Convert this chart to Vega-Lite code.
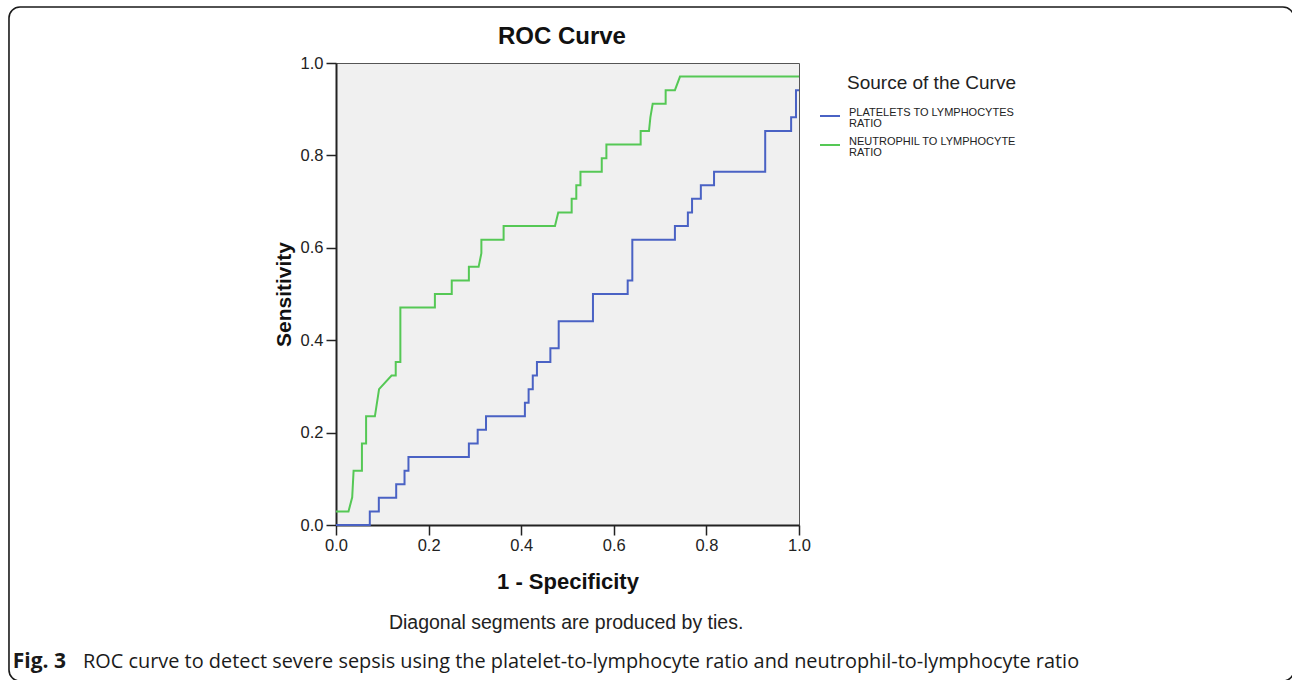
{
  "$schema": "https://vega.github.io/schema/vega-lite/v6.json",
  "autosize": "none",
  "width": 463,
  "height": 462,
  "padding": {"left": 336, "top": 63, "right": 493, "bottom": 155},
  "background": "white",
  "config": {
    "font": "Liberation Sans",
    "view": {"fill": "#f0f0f0", "stroke": "#555555", "strokeWidth": 1},
    "axis": {
      "domainColor": "#222222", "domainWidth": 2,
      "tickColor": "#222222", "tickWidth": 1.5, "tickSize": 10,
      "labelFont": "Liberation Sans", "labelFontSize": 16.5, "labelColor": "#222222",
      "titleFont": "Liberation Sans", "titleFontWeight": "bold", "titleColor": "#111111",
      "grid": false
    },
    "style": {"guide-label": {"lineHeight": 11}}
  },
  "datasets": {
    "notes": [
      {"kind": "title", "label": "ROC Curve"},
      {"kind": "ties", "label": "Diagonal segments are produced by ties."},
      {"kind": "figno", "label": "Fig. 3"},
      {"kind": "caption", "label": "ROC curve to detect severe sepsis using the platelet-to-lymphocyte ratio and neutrophil-to-lymphocyte ratio"}
    ],
    "roc": [
      {"series": "NEUTROPHIL TO LYMPHOCYTE RATIO", "i": 1, "fpr": 0.0, "tpr": 0.0294},
      {"series": "NEUTROPHIL TO LYMPHOCYTE RATIO", "i": 2, "fpr": 0.027, "tpr": 0.0294},
      {"series": "NEUTROPHIL TO LYMPHOCYTE RATIO", "i": 3, "fpr": 0.035, "tpr": 0.06},
      {"series": "NEUTROPHIL TO LYMPHOCYTE RATIO", "i": 4, "fpr": 0.038, "tpr": 0.1176},
      {"series": "NEUTROPHIL TO LYMPHOCYTE RATIO", "i": 5, "fpr": 0.056, "tpr": 0.1176},
      {"series": "NEUTROPHIL TO LYMPHOCYTE RATIO", "i": 6, "fpr": 0.056, "tpr": 0.1765},
      {"series": "NEUTROPHIL TO LYMPHOCYTE RATIO", "i": 7, "fpr": 0.065, "tpr": 0.1765},
      {"series": "NEUTROPHIL TO LYMPHOCYTE RATIO", "i": 8, "fpr": 0.065, "tpr": 0.2353},
      {"series": "NEUTROPHIL TO LYMPHOCYTE RATIO", "i": 9, "fpr": 0.084, "tpr": 0.2353},
      {"series": "NEUTROPHIL TO LYMPHOCYTE RATIO", "i": 10, "fpr": 0.093, "tpr": 0.2941},
      {"series": "NEUTROPHIL TO LYMPHOCYTE RATIO", "i": 11, "fpr": 0.12, "tpr": 0.3235},
      {"series": "NEUTROPHIL TO LYMPHOCYTE RATIO", "i": 12, "fpr": 0.129, "tpr": 0.3235},
      {"series": "NEUTROPHIL TO LYMPHOCYTE RATIO", "i": 13, "fpr": 0.129, "tpr": 0.3529},
      {"series": "NEUTROPHIL TO LYMPHOCYTE RATIO", "i": 14, "fpr": 0.139, "tpr": 0.3529},
      {"series": "NEUTROPHIL TO LYMPHOCYTE RATIO", "i": 15, "fpr": 0.139, "tpr": 0.4706},
      {"series": "NEUTROPHIL TO LYMPHOCYTE RATIO", "i": 16, "fpr": 0.2136, "tpr": 0.4706},
      {"series": "NEUTROPHIL TO LYMPHOCYTE RATIO", "i": 17, "fpr": 0.2136, "tpr": 0.5},
      {"series": "NEUTROPHIL TO LYMPHOCYTE RATIO", "i": 18, "fpr": 0.25, "tpr": 0.5},
      {"series": "NEUTROPHIL TO LYMPHOCYTE RATIO", "i": 19, "fpr": 0.25, "tpr": 0.5294},
      {"series": "NEUTROPHIL TO LYMPHOCYTE RATIO", "i": 20, "fpr": 0.287, "tpr": 0.5294},
      {"series": "NEUTROPHIL TO LYMPHOCYTE RATIO", "i": 21, "fpr": 0.287, "tpr": 0.5588},
      {"series": "NEUTROPHIL TO LYMPHOCYTE RATIO", "i": 22, "fpr": 0.308, "tpr": 0.5588},
      {"series": "NEUTROPHIL TO LYMPHOCYTE RATIO", "i": 23, "fpr": 0.314, "tpr": 0.5882},
      {"series": "NEUTROPHIL TO LYMPHOCYTE RATIO", "i": 24, "fpr": 0.314, "tpr": 0.6176},
      {"series": "NEUTROPHIL TO LYMPHOCYTE RATIO", "i": 25, "fpr": 0.362, "tpr": 0.6176},
      {"series": "NEUTROPHIL TO LYMPHOCYTE RATIO", "i": 26, "fpr": 0.362, "tpr": 0.6471},
      {"series": "NEUTROPHIL TO LYMPHOCYTE RATIO", "i": 27, "fpr": 0.473, "tpr": 0.6471},
      {"series": "NEUTROPHIL TO LYMPHOCYTE RATIO", "i": 28, "fpr": 0.48, "tpr": 0.6765},
      {"series": "NEUTROPHIL TO LYMPHOCYTE RATIO", "i": 29, "fpr": 0.509, "tpr": 0.6765},
      {"series": "NEUTROPHIL TO LYMPHOCYTE RATIO", "i": 30, "fpr": 0.509, "tpr": 0.7059},
      {"series": "NEUTROPHIL TO LYMPHOCYTE RATIO", "i": 31, "fpr": 0.519, "tpr": 0.7059},
      {"series": "NEUTROPHIL TO LYMPHOCYTE RATIO", "i": 32, "fpr": 0.519, "tpr": 0.7353},
      {"series": "NEUTROPHIL TO LYMPHOCYTE RATIO", "i": 33, "fpr": 0.528, "tpr": 0.7353},
      {"series": "NEUTROPHIL TO LYMPHOCYTE RATIO", "i": 34, "fpr": 0.528, "tpr": 0.7647},
      {"series": "NEUTROPHIL TO LYMPHOCYTE RATIO", "i": 35, "fpr": 0.574, "tpr": 0.7647},
      {"series": "NEUTROPHIL TO LYMPHOCYTE RATIO", "i": 36, "fpr": 0.574, "tpr": 0.7941},
      {"series": "NEUTROPHIL TO LYMPHOCYTE RATIO", "i": 37, "fpr": 0.584, "tpr": 0.7941},
      {"series": "NEUTROPHIL TO LYMPHOCYTE RATIO", "i": 38, "fpr": 0.584, "tpr": 0.8235},
      {"series": "NEUTROPHIL TO LYMPHOCYTE RATIO", "i": 39, "fpr": 0.658, "tpr": 0.8235},
      {"series": "NEUTROPHIL TO LYMPHOCYTE RATIO", "i": 40, "fpr": 0.658, "tpr": 0.8529},
      {"series": "NEUTROPHIL TO LYMPHOCYTE RATIO", "i": 41, "fpr": 0.676, "tpr": 0.8529},
      {"series": "NEUTROPHIL TO LYMPHOCYTE RATIO", "i": 42, "fpr": 0.679, "tpr": 0.8824},
      {"series": "NEUTROPHIL TO LYMPHOCYTE RATIO", "i": 43, "fpr": 0.684, "tpr": 0.9118},
      {"series": "NEUTROPHIL TO LYMPHOCYTE RATIO", "i": 44, "fpr": 0.712, "tpr": 0.9118},
      {"series": "NEUTROPHIL TO LYMPHOCYTE RATIO", "i": 45, "fpr": 0.712, "tpr": 0.9412},
      {"series": "NEUTROPHIL TO LYMPHOCYTE RATIO", "i": 46, "fpr": 0.732, "tpr": 0.9412},
      {"series": "NEUTROPHIL TO LYMPHOCYTE RATIO", "i": 47, "fpr": 0.743, "tpr": 0.9706},
      {"series": "NEUTROPHIL TO LYMPHOCYTE RATIO", "i": 48, "fpr": 1.0, "tpr": 0.9706},
      {"series": "PLATELETS TO LYMPHOCYTES RATIO", "i": 1, "fpr": 0.0, "tpr": 0.0},
      {"series": "PLATELETS TO LYMPHOCYTES RATIO", "i": 2, "fpr": 0.073, "tpr": 0.0},
      {"series": "PLATELETS TO LYMPHOCYTES RATIO", "i": 3, "fpr": 0.073, "tpr": 0.0294},
      {"series": "PLATELETS TO LYMPHOCYTES RATIO", "i": 4, "fpr": 0.0925, "tpr": 0.0294},
      {"series": "PLATELETS TO LYMPHOCYTES RATIO", "i": 5, "fpr": 0.0925, "tpr": 0.0588},
      {"series": "PLATELETS TO LYMPHOCYTES RATIO", "i": 6, "fpr": 0.13, "tpr": 0.0588},
      {"series": "PLATELETS TO LYMPHOCYTES RATIO", "i": 7, "fpr": 0.13, "tpr": 0.0882},
      {"series": "PLATELETS TO LYMPHOCYTES RATIO", "i": 8, "fpr": 0.148, "tpr": 0.0882},
      {"series": "PLATELETS TO LYMPHOCYTES RATIO", "i": 9, "fpr": 0.148, "tpr": 0.1176},
      {"series": "PLATELETS TO LYMPHOCYTES RATIO", "i": 10, "fpr": 0.1565, "tpr": 0.1176},
      {"series": "PLATELETS TO LYMPHOCYTES RATIO", "i": 11, "fpr": 0.1565, "tpr": 0.1471},
      {"series": "PLATELETS TO LYMPHOCYTES RATIO", "i": 12, "fpr": 0.287, "tpr": 0.1471},
      {"series": "PLATELETS TO LYMPHOCYTES RATIO", "i": 13, "fpr": 0.287, "tpr": 0.1765},
      {"series": "PLATELETS TO LYMPHOCYTES RATIO", "i": 14, "fpr": 0.306, "tpr": 0.1765},
      {"series": "PLATELETS TO LYMPHOCYTES RATIO", "i": 15, "fpr": 0.306, "tpr": 0.2059},
      {"series": "PLATELETS TO LYMPHOCYTES RATIO", "i": 16, "fpr": 0.324, "tpr": 0.2059},
      {"series": "PLATELETS TO LYMPHOCYTES RATIO", "i": 17, "fpr": 0.324, "tpr": 0.2353},
      {"series": "PLATELETS TO LYMPHOCYTES RATIO", "i": 18, "fpr": 0.408, "tpr": 0.2353},
      {"series": "PLATELETS TO LYMPHOCYTES RATIO", "i": 19, "fpr": 0.408, "tpr": 0.2647},
      {"series": "PLATELETS TO LYMPHOCYTES RATIO", "i": 20, "fpr": 0.416, "tpr": 0.2647},
      {"series": "PLATELETS TO LYMPHOCYTES RATIO", "i": 21, "fpr": 0.416, "tpr": 0.2941},
      {"series": "PLATELETS TO LYMPHOCYTES RATIO", "i": 22, "fpr": 0.425, "tpr": 0.2941},
      {"series": "PLATELETS TO LYMPHOCYTES RATIO", "i": 23, "fpr": 0.425, "tpr": 0.3235},
      {"series": "PLATELETS TO LYMPHOCYTES RATIO", "i": 24, "fpr": 0.434, "tpr": 0.3235},
      {"series": "PLATELETS TO LYMPHOCYTES RATIO", "i": 25, "fpr": 0.434, "tpr": 0.3529},
      {"series": "PLATELETS TO LYMPHOCYTES RATIO", "i": 26, "fpr": 0.463, "tpr": 0.3529},
      {"series": "PLATELETS TO LYMPHOCYTES RATIO", "i": 27, "fpr": 0.463, "tpr": 0.3824},
      {"series": "PLATELETS TO LYMPHOCYTES RATIO", "i": 28, "fpr": 0.481, "tpr": 0.3824},
      {"series": "PLATELETS TO LYMPHOCYTES RATIO", "i": 29, "fpr": 0.481, "tpr": 0.4412},
      {"series": "PLATELETS TO LYMPHOCYTES RATIO", "i": 30, "fpr": 0.555, "tpr": 0.4412},
      {"series": "PLATELETS TO LYMPHOCYTES RATIO", "i": 31, "fpr": 0.555, "tpr": 0.5},
      {"series": "PLATELETS TO LYMPHOCYTES RATIO", "i": 32, "fpr": 0.63, "tpr": 0.5},
      {"series": "PLATELETS TO LYMPHOCYTES RATIO", "i": 33, "fpr": 0.63, "tpr": 0.5294},
      {"series": "PLATELETS TO LYMPHOCYTES RATIO", "i": 34, "fpr": 0.64, "tpr": 0.5294},
      {"series": "PLATELETS TO LYMPHOCYTES RATIO", "i": 35, "fpr": 0.64, "tpr": 0.6176},
      {"series": "PLATELETS TO LYMPHOCYTES RATIO", "i": 36, "fpr": 0.732, "tpr": 0.6176},
      {"series": "PLATELETS TO LYMPHOCYTES RATIO", "i": 37, "fpr": 0.732, "tpr": 0.6471},
      {"series": "PLATELETS TO LYMPHOCYTES RATIO", "i": 38, "fpr": 0.76, "tpr": 0.6471},
      {"series": "PLATELETS TO LYMPHOCYTES RATIO", "i": 39, "fpr": 0.76, "tpr": 0.6765},
      {"series": "PLATELETS TO LYMPHOCYTES RATIO", "i": 40, "fpr": 0.769, "tpr": 0.6765},
      {"series": "PLATELETS TO LYMPHOCYTES RATIO", "i": 41, "fpr": 0.769, "tpr": 0.7059},
      {"series": "PLATELETS TO LYMPHOCYTES RATIO", "i": 42, "fpr": 0.788, "tpr": 0.7059},
      {"series": "PLATELETS TO LYMPHOCYTES RATIO", "i": 43, "fpr": 0.788, "tpr": 0.7353},
      {"series": "PLATELETS TO LYMPHOCYTES RATIO", "i": 44, "fpr": 0.8165, "tpr": 0.7353},
      {"series": "PLATELETS TO LYMPHOCYTES RATIO", "i": 45, "fpr": 0.8165, "tpr": 0.7647},
      {"series": "PLATELETS TO LYMPHOCYTES RATIO", "i": 46, "fpr": 0.927, "tpr": 0.7647},
      {"series": "PLATELETS TO LYMPHOCYTES RATIO", "i": 47, "fpr": 0.927, "tpr": 0.8529},
      {"series": "PLATELETS TO LYMPHOCYTES RATIO", "i": 48, "fpr": 0.983, "tpr": 0.8529},
      {"series": "PLATELETS TO LYMPHOCYTES RATIO", "i": 49, "fpr": 0.983, "tpr": 0.8824},
      {"series": "PLATELETS TO LYMPHOCYTES RATIO", "i": 50, "fpr": 0.9935, "tpr": 0.8824},
      {"series": "PLATELETS TO LYMPHOCYTES RATIO", "i": 51, "fpr": 0.9935, "tpr": 0.9412},
      {"series": "PLATELETS TO LYMPHOCYTES RATIO", "i": 52, "fpr": 1.0, "tpr": 0.9412}
    ]
  },
  "layer": [
    {
      "data": {"values": [{"frame": "figure border"}]},
      "mark": {"type": "rect", "fill": null, "filled": false, "stroke": "#1a1a1a", "strokeWidth": 1.6, "cornerRadius": 11, "clip": false},
      "encoding": {
        "x": {"datum": -0.7063, "type": "quantitative"},
        "x2": {"datum": 2.069},
        "y": {"datum": 1.1212, "type": "quantitative"},
        "y2": {"datum": -0.3377}
      }
    },
    {
      "data": {"name": "roc"},
      "mark": {"type": "line", "strokeWidth": 2, "interpolate": "linear"},
      "encoding": {
        "x": {
          "field": "fpr", "type": "quantitative",
          "scale": {"domain": [0, 1], "nice": false, "zero": false},
          "axis": {"title": "1 - Specificity", "titleFontSize": 22, "titlePadding": 18, "values": [0, 0.2, 0.4, 0.6, 0.8, 1.0], "format": ".1f", "labelPadding": 2, "labelFlush": false}
        },
        "y": {
          "field": "tpr", "type": "quantitative",
          "scale": {"domain": [0, 1], "nice": false, "zero": false},
          "axis": {"title": "Sensitivity", "titleFontSize": 21, "titlePadding": 6, "values": [0, 0.2, 0.4, 0.6, 0.8, 1.0], "format": ".1f", "labelPadding": 3, "labelFlush": false}
        },
        "color": {
          "field": "series", "type": "nominal",
          "scale": {"domain": ["PLATELETS TO LYMPHOCYTES RATIO", "NEUTROPHIL TO LYMPHOCYTE RATIO"], "range": ["#4a62c4", "#55c855"]},
          "legend": {
            "title": "Source of the Curve",
            "orient": "none",
            "legendX": 483,
            "legendY": 11,
            "titleFont": "Liberation Sans",
            "titleFontSize": 19,
            "titleFontWeight": "normal",
            "titleColor": "#222222",
            "titleAnchor": "end",
            "titlePadding": 12,
            "labelFont": "Liberation Sans",
            "labelFontSize": 11,
            "labelColor": "#222222",
            "labelLimit": 400,
            "labelBaseline": "alphabetic",
            "labelExpr": "datum.label == 'PLATELETS TO LYMPHOCYTES RATIO' ? ['PLATELETS TO LYMPHOCYTES', 'RATIO'] : ['NEUTROPHIL TO LYMPHOCYTE', 'RATIO']",
            "symbolType": "stroke",
            "symbolSize": 400,
            "symbolStrokeWidth": 2,
            "labelOffset": 8,
            "rowPadding": 5
          }
        },
        "order": {"field": "i", "type": "quantitative"}
      }
    },
    {
      "data": {"name": "notes"},
      "transform": [{"filter": "datum.kind == 'title'"}],
      "mark": {"type": "text", "font": "Liberation Sans", "fontSize": 24, "fontWeight": "bold", "color": "#111111", "align": "center", "baseline": "middle", "clip": false},
      "encoding": {
        "x": {"datum": 0.488, "type": "quantitative"},
        "y": {"datum": 1.0563, "type": "quantitative"},
        "text": {"field": "label"}
      }
    },
    {
      "data": {"name": "notes"},
      "transform": [{"filter": "datum.kind == 'ties'"}],
      "mark": {"type": "text", "font": "Liberation Sans", "fontSize": 19.5, "color": "#222222", "align": "center", "baseline": "middle", "clip": false},
      "encoding": {
        "x": {"datum": 0.497, "type": "quantitative"},
        "y": {"datum": -0.212, "type": "quantitative"},
        "text": {"field": "label"}
      }
    },
    {
      "data": {"name": "notes"},
      "transform": [{"filter": "datum.kind == 'figno'"}],
      "mark": {"type": "text", "font": "Open Sans", "fontSize": 21, "fontWeight": "bold", "color": "#1a1a1a", "align": "left", "baseline": "middle", "clip": false},
      "encoding": {
        "x": {"datum": -0.698, "type": "quantitative"},
        "y": {"datum": -0.2965, "type": "quantitative"},
        "text": {"field": "label"}
      }
    },
    {
      "data": {"name": "notes"},
      "transform": [{"filter": "datum.kind == 'caption'"}],
      "mark": {"type": "text", "font": "Open Sans", "fontSize": 19.9, "color": "#1a1a1a", "align": "left", "baseline": "middle", "clip": false},
      "encoding": {
        "x": {"datum": -0.5464, "type": "quantitative"},
        "y": {"datum": -0.2965, "type": "quantitative"},
        "text": {"field": "label"}
      }
    }
  ]
}
